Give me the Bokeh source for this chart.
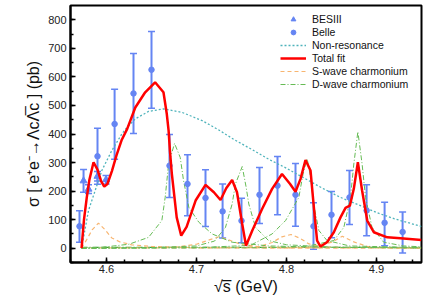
from bokeh.plotting import figure
from bokeh.models import (ColumnDataSource, Range1d, FixedTicker, PrintfTickFormatter,
                          Whisker, TeeHead, Legend, LegendItem)
from bokeh.embed import file_html
from bokeh.resources import INLINE

# ---------------- data ----------------
bes_x = [4.5745, 4.5800, 4.5900, 4.5995]
bes_y = [236, 207, 252, 240]
bes_err = [40, 15, 17, 15]

belle_x = [4.570, 4.590, 4.609, 4.630, 4.650, 4.670, 4.690, 4.710, 4.729, 4.750,
           4.770, 4.790, 4.810, 4.830, 4.850, 4.870, 4.889, 4.909, 4.929]
belle_y = [77, 322, 435, 542, 625, 289, 225, 176, 129, 96,
           187, 219, 187, 77, 117, 178, 132, 89, 57]
belle_lo = [21, 224, 312, 402, 490, 178, 114, 76, 36, 19,
            87, 117, 77, -4, 37, 83, 44, 9, -17]
belle_hi = [131, 420, 557, 682, 759, 398, 327, 275, 225, 175,
            283, 321, 297, 159, 199, 272, 222, 161, 127]

nonres_x = [4.5723, 4.580, 4.5856, 4.5948, 4.6059, 4.617, 4.6226, 4.632, 4.6467, 4.6633,
            4.6837, 4.7063, 4.7248, 4.7415, 4.762, 4.780, 4.800, 4.820, 4.840, 4.860,
            4.880, 4.900, 4.920, 4.950]
nonres_y = [0, 132, 185, 272, 342, 400, 423, 453, 479, 488,
            476, 447, 414, 381, 345, 312, 280, 245, 210, 178,
            152, 125, 103, 76]

total_x = [4.5723, 4.5750, 4.5781, 4.5810, 4.5856, 4.5900, 4.5940, 4.5975, 4.6010, 4.6060,
           4.6110, 4.6170, 4.6230, 4.6320, 4.6430, 4.6540, 4.6633, 4.6670, 4.6690, 4.6705,
           4.6726, 4.6780, 4.6830, 4.6890, 4.6990, 4.7100, 4.7193, 4.7267, 4.7330, 4.7396,
           4.7450, 4.7508, 4.7550, 4.7620, 4.7730, 4.7840, 4.7950, 4.8040, 4.8100, 4.8156,
           4.8211, 4.8267, 4.8304, 4.8340, 4.8378, 4.8450, 4.8526, 4.8600, 4.8656, 4.8704,
           4.8748, 4.8793, 4.8840, 4.8897, 4.8970, 4.9120, 4.9267, 4.9500]
total_y = [0, 100, 178, 240, 301, 275, 235, 216, 225, 270,
           324, 380, 418, 493, 546, 581, 546, 470, 412, 340,
           260, 108, 44, 75, 167, 222, 196, 169, 210, 239,
           196, 85, 9, 62, 138, 208, 260, 225, 198, 243,
           309, 272, 143, 27, 6, 21, 56, 108, 141, 149,
           208, 301, 202, 97, 56, 38, 35, 29]

# S-wave charmonium components
s1_x = [4.5723, 4.578, 4.584, 4.591, 4.598, 4.6059, 4.615, 4.628, 4.650, 4.700, 4.950]
s1_y = [0, 30, 64, 88, 66, 36, 22, 12, 6, 2, 0.5]
s2_x = [4.660, 4.680, 4.700, 4.715, 4.725, 4.735, 4.750, 4.770, 4.800]
s2_y = [1, 5, 14, 30, 40, 30, 13, 5, 2]
s3_x = [4.750, 4.770, 4.784, 4.795, 4.805, 4.815, 4.825, 4.840, 4.870]
s3_y = [2, 6, 20, 40, 48, 35, 15, 5, 1]
s4_x = [4.800, 4.830, 4.851, 4.862, 4.8748, 4.890, 4.910, 4.950]
s4_y = [1, 5, 22, 42, 22, 6, 2, 1]

# D-wave charmonium components
d1_x = [4.5723, 4.600, 4.625, 4.6467, 4.6615, 4.6652, 4.669, 4.6756, 4.6819, 4.6856,
        4.6915, 4.7026, 4.7174, 4.7396, 4.780, 4.850, 4.950]
d1_y = [0, 5, 14, 38, 97, 178, 295, 367, 318, 237,
        143, 91, 50, 21, 8, 3, 1]
d2_x = [4.5723, 4.650, 4.700, 4.720, 4.7322, 4.7396, 4.7433, 4.7508, 4.7552, 4.7581,
        4.7656, 4.780, 4.800, 4.850, 4.950]
d2_y = [0, 2, 8, 25, 73, 155, 225, 286, 213, 155,
        73, 27, 12, 4, 1]
d3_x = [4.5723, 4.700, 4.760, 4.784, 4.799, 4.8137, 4.819, 4.823, 4.8267, 4.8304,
        4.836, 4.845, 4.870, 4.950]
d3_y = [0, 2, 10, 50, 97, 178, 270, 313, 250, 150,
        62, 27, 8, 2]
d4_x = [4.5723, 4.780, 4.820, 4.8526, 4.8637, 4.8711, 4.8748, 4.8793, 4.884, 4.8878,
        4.895, 4.908, 4.930, 4.950]
d4_y = [0, 2, 5, 27, 73, 178, 295, 408, 295, 178,
        73, 21, 8, 5]
base_x = [4.5723, 4.950]
base_green_y = [3, 3]
base_orange_y = [1, 1]

x_major = [4.6, 4.7, 4.8, 4.9]
x_minor = [4.56, 4.58, 4.60, 4.62, 4.64, 4.66, 4.68, 4.70, 4.72, 4.74, 4.76, 4.78,
           4.80, 4.82, 4.84, 4.86, 4.88, 4.90, 4.92, 4.94]
y_major = [0, 100, 200, 300, 400, 500, 600, 700, 800]
y_minor = [-50, 0, 50, 100, 150, 200, 250, 300, 350, 400, 450, 500, 550, 600, 650,
           700, 750, 800]

# ---------------- styles ----------------
BLUE = "#6585f3"
RED = "#ff0000"
TEAL = "#4fb3bb"
ORANGE = "#f8b570"
GREEN = "#66bb55"
FONT = "Liberation Sans"

p = figure(frame_width=351, frame_height=257, output_backend="svg", toolbar_location=None,
           x_range=Range1d(4.56, 4.95), y_range=Range1d(-50, 850),
           min_border_left=70, min_border_right=15, min_border_top=5, min_border_bottom=44)
p.grid.visible = False
p.outline_line_color = "black"
p.outline_line_width = 2
p.background_fill_color = "white"
p.border_fill_color = "white"

for ax in (p.xaxis[0], p.yaxis[0]):
    ax.axis_line_width = 2
    ax.axis_line_color = "black"
    ax.major_tick_in = 5
    ax.major_tick_out = 0
    ax.minor_tick_in = 3
    ax.minor_tick_out = 0
    ax.major_tick_line_width = 1.5
    ax.minor_tick_line_width = 1.5
    ax.major_label_text_font = FONT
    ax.major_label_text_font_size = "11px"
    ax.major_label_text_color = "#222222"
    ax.axis_label_text_font = FONT
    ax.axis_label_text_font_size = "16px"
    ax.axis_label_text_font_style = "normal"
    ax.axis_label_text_color = "#111111"

p.xaxis.ticker = FixedTicker(ticks=x_major, minor_ticks=x_minor)
p.yaxis.ticker = FixedTicker(ticks=y_major, minor_ticks=y_minor)
p.xaxis.formatter = PrintfTickFormatter(format="%.1f")
p.xaxis.major_label_standoff = 2
p.yaxis.major_label_standoff = 4
p.xaxis.axis_label = "\u221as\u0305 (GeV)"
p.yaxis.axis_label = "\u03c3 [ e\u207ae\u207b\u2192\u039bc\u039b\u0305c ] (pb)"
p.xaxis.axis_label_standoff = 2
p.yaxis.axis_label_standoff = 3

# baselines
p.line(base_x, base_green_y, line_color="#3f9f30", line_width=1.2, line_dash="6 2 1 2")
p.line(base_x, base_orange_y, line_color=ORANGE, line_width=1.2, line_dash="5 4")

# S-wave
s_r = None
for sx, sy in ((s1_x, s1_y), (s2_x, s2_y), (s3_x, s3_y), (s4_x, s4_y)):
    r = p.line(sx, sy, line_color=ORANGE, line_width=1.2, line_dash="4 3")
    s_r = s_r or r
# D-wave
d_r = None
for dx, dy in ((d1_x, d1_y), (d2_x, d2_y), (d3_x, d3_y), (d4_x, d4_y)):
    r = p.line(dx, dy, line_color=GREEN, line_width=1.0, line_dash="5 2 1 2")
    d_r = d_r or r

nr_r = p.line(nonres_x, nonres_y, line_color=TEAL, line_width=1.3, line_dash="2 2")

# data points
bes_src = ColumnDataSource(dict(x=bes_x, y=bes_y,
                                lo=[a - b for a, b in zip(bes_y, bes_err)],
                                hi=[a + b for a, b in zip(bes_y, bes_err)]))
belle_src = ColumnDataSource(dict(x=belle_x, y=belle_y, lo=belle_lo, hi=belle_hi))
for src in (bes_src, belle_src):
    w = Whisker(source=src, base="x", lower="lo", upper="hi",
                line_color=BLUE, line_width=2,
                upper_head=TeeHead(size=7, line_color=BLUE, line_width=1.5),
                lower_head=TeeHead(size=7, line_color=BLUE, line_width=1.5))
    p.add_layout(w)
bes_r = p.scatter("x", "y", source=bes_src, marker="triangle", size=7,
                  fill_color=BLUE, line_color=BLUE)
belle_r = p.scatter("x", "y", source=belle_src, marker="circle", size=5.5,
                    fill_color=BLUE, line_color=BLUE)

tot_r = p.line(total_x, total_y, line_color=RED, line_width=2.5)

legend = Legend(items=[
    LegendItem(label="BESIII", renderers=[bes_r]),
    LegendItem(label="Belle", renderers=[belle_r]),
    LegendItem(label="Non-resonance", renderers=[nr_r]),
    LegendItem(label="Total fit", renderers=[tot_r]),
    LegendItem(label="S-wave charmonium", renderers=[s_r]),
    LegendItem(label="D-wave charmonium", renderers=[d_r]),
], location=(210, 172), padding=0, margin=0, spacing=1, glyph_width=26,
    glyph_height=12, label_height=12, label_standoff=6,
    label_text_font=FONT, label_text_font_size="10.5px", label_text_color="#111111",
    border_line_alpha=0, background_fill_alpha=0)
p.add_layout(legend)

open("out.html", "w").write(file_html(p, INLINE))
